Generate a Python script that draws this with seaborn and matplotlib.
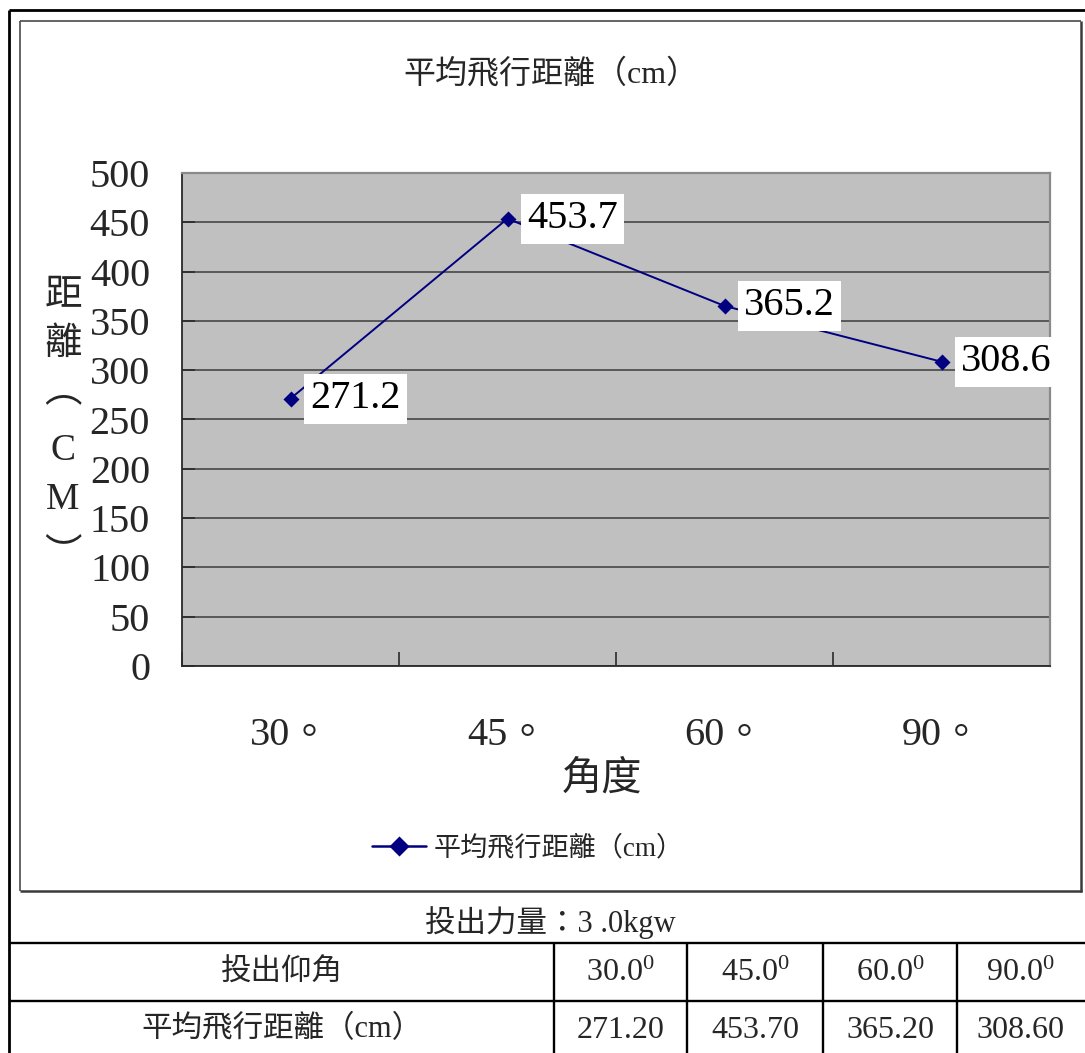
import matplotlib
matplotlib.use("Agg")
import matplotlib.pyplot as plt
from matplotlib.lines import Line2D
import seaborn as sns

# ---- data ----
angles = ["30。", "45。", "60。", "90。"]
distances = [271.2, 453.7, 365.2, 308.6]
y_ticks = [0, 50, 100, 150, 200, 250, 300, 350, 400, 450, 500]
series_name = "平均飛行距離（cm）"
chart_title = "平均飛行距離（cm）"
x_title = "角度"
y_title_chars = ["距", "離", "︵", "C", "M", "︶"]
force_caption = "投出力量：3 .0kgw"
row_headers = ["投出仰角", "平均飛行距離（cm）"]
table_angles = ["30.0$^{0}$", "45.0$^{0}$", "60.0$^{0}$", "90.0$^{0}$"]
table_distances = [f"{d:.2f}" for d in distances]

sns.set_style("white")
SERIF = ["Liberation Serif", "DejaVu Serif", "Noto Sans CJK TC"]
plt.rcParams["font.family"] = SERIF
plt.rcParams["axes.unicode_minus"] = False
plt.rcParams["mathtext.fontset"] = "custom"
plt.rcParams["mathtext.rm"] = "Liberation Serif"
plt.rcParams["mathtext.it"] = "Liberation Serif"
plt.rcParams["mathtext.default"] = "rm"

W, H = 1085, 1053
fig = plt.figure(figsize=(W / 100, H / 100), dpi=100, facecolor="white")


def fx(px):
    return px / W


def fy(py):
    return 1 - py / H


def fig_line(x0, y0, x1, y1, color="black", lw=1.6):
    fig.add_artist(Line2D([fx(x0), fx(x1)], [fy(y0), fy(y1)],
                          transform=fig.transFigure, color=color, lw=lw,
                          solid_capstyle="butt"))


# page frame (left and top) and chart frame
fig_line(9, 10, 1085, 10, lw=2.0)
fig_line(9, 10, 9, 1053, lw=2.0)
frame_c = "#3a3a3a"
fig_line(20, 21, 1081, 21, color=frame_c, lw=1.1)
fig_line(20, 21, 20, 891, color=frame_c, lw=1.1)
fig_line(1081, 21, 1081, 892, color=frame_c, lw=1.8)
fig_line(20, 891, 1082, 891, color=frame_c, lw=1.8)

# ---- plot area ----
ax_l, ax_r, ax_t, ax_b = 182, 1050, 173, 666
ax = fig.add_axes([fx(ax_l), fy(ax_b), (ax_r - ax_l) / W, (ax_b - ax_t) / H])
ax.set_facecolor("#c0c0c0")

sns.pointplot(x=angles, y=distances, color="#000080", markers="D",
              linestyles="-", errorbar=None, markersize=7.5, linewidth=1.4,
              label=series_name, ax=ax)

ax.set_ylim(0, 500)
ax.set_xlim(-0.5, len(angles) - 0.5)
ax.set_yticks(y_ticks)
ax.yaxis.grid(True, color="#505050", lw=1.3)
ax.xaxis.grid(False)
ax.set_axisbelow(True)

for side in ("top", "right"):
    ax.spines[side].set_color("#8a8a8a")
    ax.spines[side].set_linewidth(1.6)
for side in ("left", "bottom"):
    ax.spines[side].set_color("#2a2a2a")
    ax.spines[side].set_linewidth(1.3)

ax.tick_params(axis="y", direction="in", length=9.5, width=1.2,
               color="#2a2a2a", pad=23, labelsize=29, left=True)
ax.set_xticks([i - 0.5 for i in range(len(angles) + 1)], minor=True)
ax.tick_params(axis="x", which="minor", direction="in", length=10,
               width=1.2, color="#2a2a2a", bottom=True)
ax.tick_params(axis="x", which="major", length=0, pad=37, labelsize=29)
ax.set_xlabel("")
ax.set_ylabel("")

# value labels in white boxes
for i, v in enumerate(distances):
    ax.annotate(f"{v:g}", xy=(i, v), xytext=(14, 0),
                textcoords="offset points", ha="left", va="center",
                fontsize=29, color="black", zorder=5,
                bbox=dict(boxstyle="square,pad=0.16", fc="white", ec="none"))

# titles
fig.text(fx(551), fy(74), chart_title, ha="center", va="center",
         fontsize=23)
fig.text(fx(602), fy(780), x_title, ha="center", va="center", fontsize=29)
for ch, yc in zip(y_title_chars, [296, 345, 392, 451, 500, 556]):
    fig.text(fx(63), fy(yc), ch, ha="center", va="center", fontsize=27)

# legend
leg = ax.legend(loc="center", bbox_to_anchor=(fx(528), fy(849)),
                bbox_transform=fig.transFigure, frameon=False,
                fontsize=19.5, handlelength=2.0, handletextpad=0.3,
                borderpad=0)
for handle in leg.legend_handles:
    handle.set_linewidth(1.8)
    handle.set_markersize(9)

# ---- data table below the chart ----
fig.text(fx(550), fy(923), force_caption, ha="center", va="center",
         fontsize=22)
col_edges = [9, 554, 687, 823, 957, 1083]
row_edges = [943, 1001, 1059]
for yy in row_edges[:2]:
    fig_line(9, yy, 1085, yy, lw=1.7)
for xx in col_edges[1:5]:
    fig_line(xx, 943, xx, 1053, lw=1.7)

row_cells = [[row_headers[0]] + table_angles,
             [row_headers[1]] + table_distances]
row_centres = [973, 1030]
for r, cells in enumerate(row_cells):
    for c, txt in enumerate(cells):
        xc = (col_edges[c] + col_edges[c + 1]) / 2
        fig.text(fx(xc), fy(row_centres[r]), txt, ha="center", va="center",
                 fontsize=22 if c == 0 else 23)

fig.savefig("out.png", dpi=100, facecolor="white")
